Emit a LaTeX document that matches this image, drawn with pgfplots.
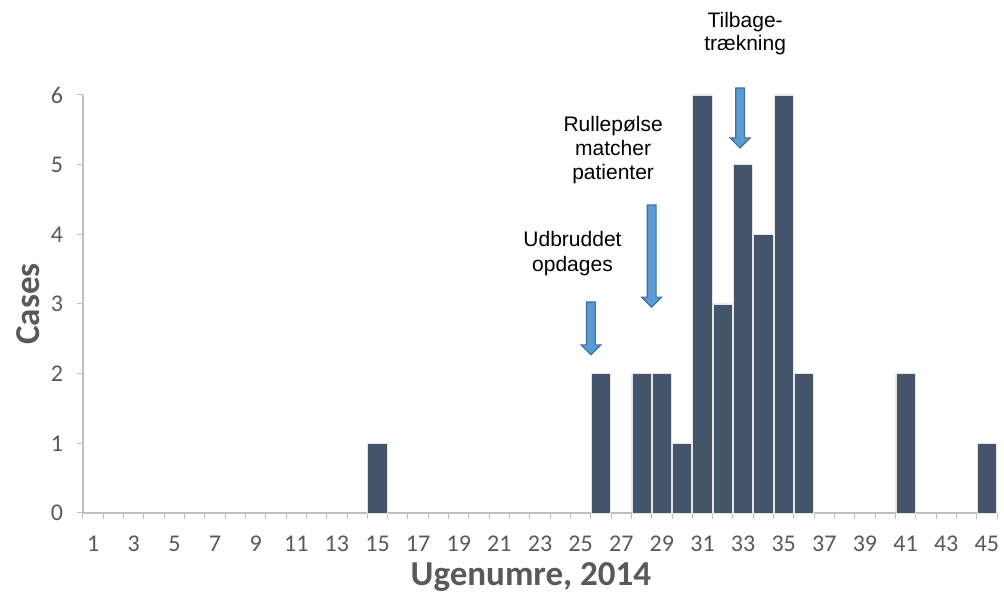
\documentclass[border=0pt]{standalone}
\usepackage{pgfplots}
\pgfplotsset{compat=1.18}
\usepackage{fontspec}
\setmainfont{Carlito}
\newfontfamily\arial{Liberation Sans}
\usetikzlibrary{calc}
\definecolor{barc}{HTML}{44546A}
\definecolor{txtg}{HTML}{595959}
\definecolor{axg}{HTML}{BFBFBF}
\definecolor{arrf}{HTML}{5B9BD5}
\definecolor{arrd}{HTML}{41719C}
\newcommand\blockarrow[3]{%
  \filldraw[fill=arrf, draw=arrd, line width=0.6pt]
   ($(axis cs:#1,#2)+(-2.2pt,0pt)$) -- ($(axis cs:#1,#3)+(-2.2pt,5pt)$) --
   ($(axis cs:#1,#3)+(-5pt,5pt)$) -- (axis cs:#1,#3) --
   ($(axis cs:#1,#3)+(5pt,5pt)$) -- ($(axis cs:#1,#3)+(2.2pt,5pt)$) --
   ($(axis cs:#1,#2)+(2.2pt,0pt)$) -- cycle;}
\begin{document}
\begin{tikzpicture}
\begin{axis}[name=ax, scale only axis, width=457pt, height=209pt,
  xmin=0.5, xmax=45.5, ymin=0, ymax=6, clip=false,
  axis lines=left, axis line style={-, draw=axg, line width=0.6pt},
  xtick={1,3,...,45}, major x tick style={draw=none},
  minor xtick={0.5,1.5,...,45.5}, minor x tick style={draw=axg, line width=0.5pt},
  minor tick length=3pt,
  ytick={0,...,6}, major tick length=3pt, y tick style={draw=axg, line width=0.5pt},
  tick align=outside,
  tick label style={font=\fontsize{12}{13}\selectfont, text=txtg},
  /pgf/number format/assume math mode=true,
  xticklabel style={yshift=-5pt},
  yticklabel style={xshift=-3.5pt},
  xlabel={Ugenumre, 2014}, ylabel={Cases},
  xlabel style={font=\bfseries\fontsize{17.5}{20}\selectfont, text=txtg,
     at={(axis description cs:0.49,-0.153)}, anchor=center},
  ylabel style={font=\bfseries\fontsize{17.5}{20}\selectfont, text=txtg,
     at={(axis description cs:-0.06,0.5)}, anchor=center},
  ybar, bar width=0.95,
]
\addplot[fill=barc, draw=white!80!gray, line width=0.4pt] coordinates {
 (15,1) (26,2) (28,2) (29,2) (30,1) (31,6) (32,3) (33,5) (34,4) (35,6) (36,2) (41,2) (45,1)};
\node[font=\arial\fontsize{10.5}{11.6}\selectfont, align=center] at (axis cs:33.1,6.88) {Tilbage-\\trækning};
\node[font=\arial\fontsize{10.5}{12}\selectfont, align=center] at (axis cs:26.6,5.21) {Rullepølse\\matcher\\patienter};
\node[font=\arial\fontsize{10.5}{12.5}\selectfont, align=center] at (axis cs:24.6,3.73) {Udbruddet\\opdages};
\blockarrow{25.51}{3.03}{2.27}
\blockarrow{28.5}{4.42}{2.955}
\blockarrow{32.85}{6.10}{5.24}
\end{axis}
\pgfresetboundingbox
\path ([xshift=-41.5pt,yshift=-39.5pt]ax.south west) rectangle ([xshift=3.5pt,yshift=47.5pt]ax.north east);
\end{tikzpicture}
\end{document}
